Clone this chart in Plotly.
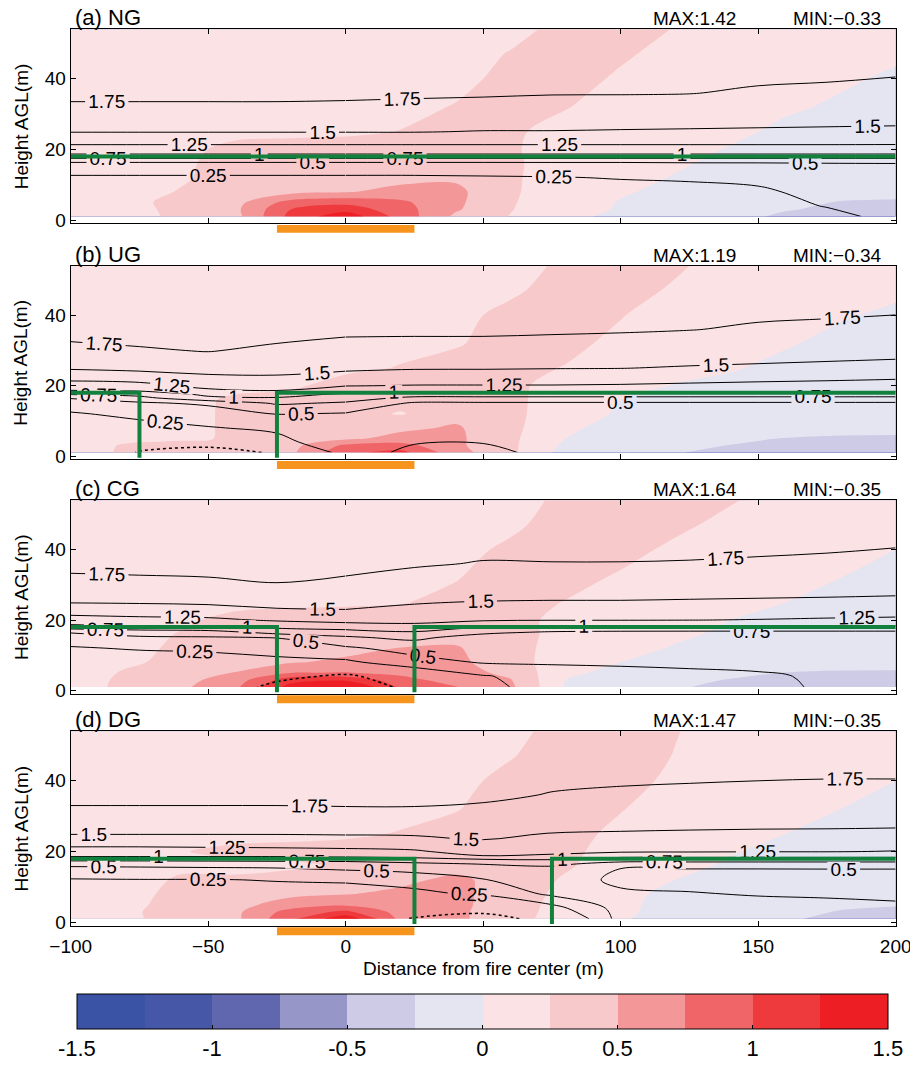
import plotly.graph_objects as go

# ---------------- data ----------------
x_fill = [-100, -80, -60, -40, -20, 0, 20, 40, 60, 80, 100, 120, 140, 160, 180, 200]
z_fill = [1, 3, 5, 8, 12, 16, 20, 25, 32, 40, 47, 54]

fill_NG = [
    [0.12, 0.16, 0.30, 0.42, 1.08, 1.42, 0.90, 0.45, 0.24, 0.05, -0.05, -0.12, -0.20, -0.28, -0.32, -0.33],
    [0.12, 0.17, 0.31, 0.45, 1.00, 1.15, 0.85, 0.53, 0.26, 0.08, -0.02, -0.10, -0.17, -0.24, -0.28, -0.30],
    [0.12, 0.18, 0.32, 0.42, 0.85, 0.92, 0.80, 0.55, 0.27, 0.10, -0.01, -0.08, -0.14, -0.20, -0.26, -0.27],
    [0.12, 0.18, 0.26, 0.35, 0.42, 0.48, 0.58, 0.56, 0.28, 0.12, 0.02, -0.05, -0.10, -0.14, -0.18, -0.20],
    [0.12, 0.17, 0.23, 0.32, 0.35, 0.38, 0.42, 0.46, 0.28, 0.14, 0.05, -0.01, -0.07, -0.12, -0.15, -0.18],
    [0.12, 0.16, 0.22, 0.32, 0.35, 0.36, 0.37, 0.38, 0.28, 0.16, 0.08, 0.02, -0.04, -0.09, -0.13, -0.16],
    [0.12, 0.15, 0.20, 0.30, 0.32, 0.33, 0.34, 0.36, 0.27, 0.17, 0.10, 0.05, -0.01, -0.06, -0.10, -0.13],
    [0.12, 0.14, 0.17, 0.20, 0.21, 0.22, 0.255, 0.33, 0.28, 0.18, 0.12, 0.07, 0.03, -0.03, -0.07, -0.10],
    [0.12, 0.13, 0.14, 0.15, 0.16, 0.17, 0.20, 0.26, 0.35, 0.26, 0.16, 0.10, 0.06, 0.02, -0.02, -0.06],
    [0.12, 0.12, 0.13, 0.14, 0.15, 0.16, 0.17, 0.20, 0.30, 0.33, 0.22, 0.14, 0.09, 0.05, 0.02, -0.02],
    [0.12, 0.12, 0.12, 0.13, 0.14, 0.15, 0.16, 0.18, 0.26, 0.34, 0.28, 0.18, 0.12, 0.08, 0.05, 0.02],
    [0.12, 0.12, 0.12, 0.12, 0.13, 0.14, 0.15, 0.16, 0.20, 0.30, 0.34, 0.24, 0.15, 0.10, 0.06, 0.04],
]
fill_UG = [
    [0.15, 0.28, 0.32, 0.33, 0.45, 0.95, 1.08, 0.60, 0.30, -0.10, -0.17, -0.24, -0.30, -0.33, -0.34, -0.33],
    [0.15, 0.27, 0.31, 0.32, 0.42, 0.80, 0.85, 0.55, 0.30, -0.05, -0.12, -0.19, -0.255, -0.29, -0.30, -0.30],
    [0.14, 0.20, 0.22, 0.27, 0.35, 0.45, 0.58, 0.55, 0.30, 0.00, -0.08, -0.15, -0.21, -0.255, -0.27, -0.27],
    [0.14, 0.18, 0.20, 0.28, 0.33, 0.38, 0.45, 0.53, 0.32, 0.02, -0.04, -0.10, -0.15, -0.18, -0.20, -0.21],
    [0.14, 0.17, 0.20, 0.28, 0.33, 0.35, 0.23, 0.42, 0.32, 0.08, -0.02, -0.06, -0.10, -0.14, -0.17, -0.18],
    [0.13, 0.16, 0.19, 0.28, 0.32, 0.34, 0.34, 0.36, 0.31, 0.12, 0.00, -0.02, -0.06, -0.10, -0.13, -0.15],
    [0.12, 0.14, 0.17, 0.20, 0.22, 0.32, 0.34, 0.35, 0.30, 0.16, 0.06, -0.01, -0.03, -0.07, -0.10, -0.12],
    [0.12, 0.13, 0.15, 0.17, 0.19, 0.21, 0.26, 0.33, 0.31, 0.24, 0.12, 0.06, 0.01, -0.03, -0.06, -0.09],
    [0.12, 0.12, 0.13, 0.14, 0.15, 0.17, 0.20, 0.23, 0.34, 0.30, 0.20, 0.12, 0.06, 0.01, -0.03, -0.06],
    [0.12, 0.12, 0.12, 0.13, 0.14, 0.15, 0.17, 0.20, 0.30, 0.35, 0.26, 0.15, 0.09, 0.05, 0.01, -0.02],
    [0.12, 0.12, 0.12, 0.12, 0.13, 0.14, 0.16, 0.18, 0.22, 0.33, 0.33, 0.22, 0.13, 0.08, 0.05, 0.02],
    [0.12, 0.12, 0.12, 0.12, 0.12, 0.13, 0.15, 0.17, 0.19, 0.28, 0.35, 0.28, 0.16, 0.10, 0.06, 0.04],
]
fill_CG = [
    [0.15, 0.30, 0.45, 0.70, 1.35, 1.58, 0.95, 0.76, 0.55, -0.02, -0.12, -0.23, -0.30, -0.34, -0.35, -0.34],
    [0.15, 0.29, 0.42, 0.62, 1.15, 1.20, 0.85, 0.62, 0.51, 0.00, -0.10, -0.19, -0.26, -0.30, -0.31, -0.31],
    [0.14, 0.27, 0.38, 0.51, 0.74, 0.76, 0.68, 0.58, 0.45, 0.04, -0.06, -0.14, -0.20, -0.255, -0.27, -0.27],
    [0.14, 0.22, 0.30, 0.40, 0.48, 0.55, 0.58, 0.55, 0.38, 0.08, 0.00, -0.06, -0.11, -0.15, -0.18, -0.19],
    [0.13, 0.20, 0.28, 0.33, 0.38, 0.42, 0.505, 0.52, 0.36, 0.12, 0.04, -0.01, -0.06, -0.10, -0.13, -0.15],
    [0.13, 0.18, 0.26, 0.32, 0.35, 0.37, 0.40, 0.42, 0.35, 0.16, 0.07, 0.02, -0.02, -0.06, -0.10, -0.12],
    [0.12, 0.16, 0.22, 0.30, 0.33, 0.34, 0.33, 0.35, 0.33, 0.18, 0.10, 0.05, 0.00, -0.04, -0.08, -0.10],
    [0.12, 0.14, 0.17, 0.20, 0.21, 0.22, 0.24, 0.30, 0.34, 0.24, 0.14, 0.09, 0.04, 0.00, -0.03, -0.06],
    [0.12, 0.12, 0.13, 0.14, 0.15, 0.17, 0.19, 0.24, 0.34, 0.33, 0.22, 0.14, 0.08, 0.04, 0.00, -0.03],
    [0.12, 0.12, 0.12, 0.13, 0.14, 0.15, 0.17, 0.20, 0.28, 0.35, 0.33, 0.20, 0.12, 0.07, 0.03, 0.00],
    [0.12, 0.12, 0.12, 0.12, 0.13, 0.14, 0.16, 0.18, 0.22, 0.32, 0.36, 0.30, 0.18, 0.10, 0.06, 0.03],
    [0.12, 0.12, 0.12, 0.12, 0.12, 0.13, 0.15, 0.17, 0.20, 0.28, 0.36, 0.34, 0.27, 0.15, 0.08, 0.05],
]
fill_DG = [
    [0.12, 0.20, 0.35, 0.45, 0.95, 1.45, 0.68, 0.55, 0.35, 0.12, 0.02, -0.08, -0.16, -0.23, -0.29, -0.33],
    [0.12, 0.21, 0.34, 0.45, 0.85, 1.05, 0.65, 0.55, 0.36, 0.14, 0.03, -0.06, -0.14, -0.20, -0.26, -0.28],
    [0.12, 0.20, 0.32, 0.43, 0.60, 0.70, 0.62, 0.56, 0.37, 0.15, 0.03, -0.05, -0.12, -0.17, -0.22, -0.24],
    [0.12, 0.19, 0.30, 0.40, 0.45, 0.49, 0.55, 0.56, 0.38, 0.18, 0.04, -0.04, -0.10, -0.15, -0.19, -0.21],
    [0.12, 0.18, 0.27, 0.28, 0.32, 0.38, 0.45, 0.55, 0.40, 0.22, 0.08, 0.00, -0.05, -0.10, -0.14, -0.16],
    [0.12, 0.17, 0.22, 0.20, 0.22, 0.27, 0.35, 0.42, 0.38, 0.28, 0.12, 0.04, -0.02, -0.07, -0.11, -0.14],
    [0.12, 0.16, 0.24, 0.30, 0.31, 0.32, 0.33, 0.35, 0.36, 0.30, 0.16, 0.07, 0.01, -0.04, -0.08, -0.11],
    [0.12, 0.13, 0.15, 0.18, 0.20, 0.22, 0.26, 0.32, 0.36, 0.32, 0.20, 0.11, 0.05, 0.00, -0.04, -0.07],
    [0.12, 0.12, 0.13, 0.14, 0.15, 0.17, 0.20, 0.24, 0.34, 0.35, 0.26, 0.15, 0.09, 0.04, 0.00, -0.03],
    [0.12, 0.12, 0.12, 0.13, 0.14, 0.15, 0.17, 0.20, 0.30, 0.36, 0.33, 0.20, 0.12, 0.07, 0.03, 0.00],
    [0.12, 0.12, 0.12, 0.12, 0.13, 0.14, 0.16, 0.18, 0.24, 0.34, 0.36, 0.24, 0.14, 0.09, 0.05, 0.02],
    [0.12, 0.12, 0.12, 0.12, 0.12, 0.13, 0.15, 0.17, 0.20, 0.32, 0.36, 0.26, 0.15, 0.10, 0.06, 0.04],
]

x_line = [-100, -75, -50, -25, 0, 25, 50, 75, 100, 125, 150, 175, 200]
z_line = [1, 4, 8, 12, 15, 16.5, 17.5, 18.5, 20, 22, 25, 30, 36, 45, 54]

u_NG = [
    [0.08, 0.08, 0.08, 0.08, 0.08, 0.10, 0.12, 0.14, 0.16, 0.18, 0.20, 0.22, 0.28],
    [0.10, 0.10, 0.10, 0.10, 0.10, 0.11, 0.13, 0.15, 0.17, 0.19, 0.21, 0.255, 0.30],
    [0.14, 0.14, 0.14, 0.14, 0.14, 0.14, 0.15, 0.16, 0.18, 0.20, 0.23, 0.29, 0.32],
    [0.22, 0.22, 0.22, 0.22, 0.22, 0.22, 0.23, 0.24, 0.26, 0.27, 0.28, 0.31, 0.34],
    [0.36, 0.36, 0.36, 0.36, 0.36, 0.36, 0.36, 0.37, 0.37, 0.38, 0.39, 0.40, 0.42],
    [0.52, 0.52, 0.52, 0.52, 0.52, 0.52, 0.52, 0.52, 0.52, 0.53, 0.53, 0.54, 0.54],
    [0.76, 0.76, 0.76, 0.76, 0.76, 0.76, 0.76, 0.76, 0.76, 0.76, 0.76, 0.76, 0.76],
    [0.98, 0.98, 0.98, 0.98, 0.98, 0.98, 0.98, 0.98, 0.98, 0.98, 0.98, 0.98, 0.98],
    [1.15, 1.15, 1.15, 1.15, 1.15, 1.15, 1.15, 1.15, 1.15, 1.15, 1.15, 1.15, 1.14],
    [1.30, 1.30, 1.30, 1.30, 1.30, 1.30, 1.30, 1.30, 1.30, 1.30, 1.30, 1.30, 1.30],
    [1.51, 1.51, 1.51, 1.51, 1.51, 1.51, 1.49, 1.49, 1.48, 1.47, 1.46, 1.45, 1.44],
    [1.68, 1.68, 1.68, 1.68, 1.68, 1.67, 1.67, 1.66, 1.65, 1.65, 1.64, 1.63, 1.62],
    [1.80, 1.80, 1.80, 1.80, 1.79, 1.78, 1.77, 1.76, 1.76, 1.755, 1.73, 1.72, 1.70],
    [1.88, 1.88, 1.88, 1.88, 1.88, 1.87, 1.86, 1.85, 1.84, 1.83, 1.82, 1.81, 1.80],
    [1.95, 1.95, 1.95, 1.95, 1.95, 1.94, 1.93, 1.92, 1.91, 1.91, 1.90, 1.90, 1.89],
]
u_UG = [
    [0.08, -0.27, -0.32, -0.23, 0.37, 0.57, 0.56, 0.44, 0.40, 0.38, 0.36, 0.36, 0.38],
    [0.10, -0.12, -0.18, 0.20, 0.36, 0.48, 0.49, 0.42, 0.39, 0.37, 0.36, 0.36, 0.37],
    [0.14, 0.18, 0.24, 0.28, 0.35, 0.38, 0.39, 0.38, 0.37, 0.36, 0.35, 0.35, 0.35],
    [0.23, 0.30, 0.34, 0.51, 0.48, 0.42, 0.41, 0.40, 0.40, 0.39, 0.39, 0.39, 0.39],
    [0.35, 0.45, 0.55, 0.78, 0.72, 0.46, 0.46, 0.46, 0.46, 0.46, 0.46, 0.46, 0.46],
    [0.52, 0.68, 0.95, 0.98, 0.85, 0.70, 0.70, 0.70, 0.70, 0.70, 0.70, 0.70, 0.70],
    [0.76, 0.82, 1.05, 1.10, 0.95, 0.85, 0.85, 0.85, 0.85, 0.85, 0.85, 0.85, 0.85],
    [0.98, 1.01, 1.20, 1.24, 1.10, 1.05, 1.05, 1.05, 1.05, 1.05, 1.05, 1.05, 1.04],
    [1.15, 1.18, 1.32, 1.35, 1.26, 1.24, 1.24, 1.24, 1.23, 1.21, 1.19, 1.18, 1.16],
    [1.30, 1.33, 1.42, 1.45, 1.38, 1.36, 1.35, 1.35, 1.34, 1.32, 1.30, 1.28, 1.26],
    [1.53, 1.57, 1.62, 1.60, 1.55, 1.52, 1.52, 1.51, 1.505, 1.48, 1.46, 1.44, 1.42],
    [1.70, 1.73, 1.76, 1.71, 1.68, 1.67, 1.67, 1.66, 1.65, 1.64, 1.62, 1.60, 1.58],
    [1.82, 1.84, 1.85, 1.83, 1.79, 1.79, 1.79, 1.78, 1.77, 1.755, 1.73, 1.72, 1.70],
    [1.89, 1.90, 1.90, 1.89, 1.88, 1.87, 1.86, 1.85, 1.84, 1.83, 1.82, 1.81, 1.81],
    [1.95, 1.95, 1.95, 1.95, 1.94, 1.93, 1.92, 1.91, 1.90, 1.89, 1.88, 1.88, 1.88],
]
u_CG = [
    [0.08, 0.05, 0.00, -0.35, -0.40, -0.18, 0.20, 0.33, 0.38, 0.42, 0.46, 0.52, 0.55],
    [0.10, 0.08, 0.05, -0.15, -0.32, 0.00, 0.23, 0.36, 0.40, 0.44, 0.47, 0.53, 0.56],
    [0.14, 0.13, 0.12, 0.15, 0.20, 0.40, 0.52, 0.53, 0.54, 0.55, 0.56, 0.57, 0.58],
    [0.23, 0.27, 0.30, 0.40, 0.46, 0.60, 0.60, 0.60, 0.60, 0.60, 0.60, 0.60, 0.60],
    [0.36, 0.48, 0.48, 0.505, 0.72, 0.80, 0.64, 0.62, 0.62, 0.62, 0.62, 0.62, 0.62],
    [0.52, 0.56, 0.62, 0.85, 0.85, 0.98, 0.80, 0.72, 0.70, 0.70, 0.70, 0.70, 0.70],
    [0.76, 0.85, 0.88, 0.98, 1.05, 1.08, 0.95, 0.88, 0.86, 0.85, 0.85, 0.85, 0.85],
    [0.98, 1.02, 1.04, 1.12, 1.18, 1.20, 1.08, 1.05, 1.04, 1.04, 1.04, 1.04, 1.03],
    [1.15, 1.18, 1.20, 1.28, 1.32, 1.34, 1.28, 1.26, 1.26, 1.255, 1.24, 1.22, 1.20],
    [1.30, 1.33, 1.35, 1.42, 1.46, 1.45, 1.40, 1.38, 1.37, 1.36, 1.35, 1.33, 1.32],
    [1.51, 1.52, 1.54, 1.60, 1.58, 1.51, 1.49, 1.48, 1.48, 1.47, 1.46, 1.45, 1.44],
    [1.69, 1.70, 1.71, 1.74, 1.70, 1.66, 1.64, 1.65, 1.65, 1.64, 1.63, 1.62, 1.60],
    [1.80, 1.81, 1.82, 1.84, 1.82, 1.77, 1.74, 1.745, 1.745, 1.74, 1.73, 1.72, 1.70],
    [1.88, 1.89, 1.89, 1.90, 1.89, 1.86, 1.84, 1.83, 1.83, 1.83, 1.82, 1.81, 1.80],
    [1.95, 1.95, 1.95, 1.95, 1.95, 1.93, 1.91, 1.90, 1.90, 1.90, 1.89, 1.89, 1.88],
]
u_DG = [
    [0.08, 0.08, 0.08, 0.10, 0.05, -0.28, -0.35, -0.16, 0.60, 0.58, 0.56, 0.56, 0.56],
    [0.10, 0.10, 0.10, 0.10, 0.05, 0.00, -0.15, 0.15, 0.60, 0.58, 0.56, 0.55, 0.54],
    [0.14, 0.15, 0.16, 0.17, 0.18, 0.20, 0.28, 0.55, 0.53, 0.51, 0.49, 0.48, 0.46],
    [0.23, 0.24, 0.24, 0.26, 0.27, 0.33, 0.49, 0.60, 0.46, 0.45, 0.45, 0.45, 0.45],
    [0.44, 0.45, 0.46, 0.47, 0.52, 0.58, 0.62, 0.68, 0.49, 0.49, 0.49, 0.495, 0.495],
    [0.56, 0.57, 0.58, 0.60, 0.64, 0.70, 0.76, 0.80, 0.66, 0.66, 0.66, 0.66, 0.66],
    [0.78, 0.78, 0.79, 0.80, 0.80, 0.85, 0.90, 0.95, 0.82, 0.82, 0.82, 0.82, 0.82],
    [0.99, 0.99, 0.99, 0.99, 1.01, 1.05, 1.22, 1.20, 1.03, 1.03, 1.03, 1.03, 1.03],
    [1.15, 1.15, 1.16, 1.17, 1.19, 1.22, 1.35, 1.30, 1.28, 1.27, 1.26, 1.26, 1.24],
    [1.30, 1.30, 1.31, 1.32, 1.33, 1.35, 1.45, 1.40, 1.38, 1.37, 1.36, 1.35, 1.34],
    [1.51, 1.51, 1.51, 1.51, 1.52, 1.53, 1.56, 1.49, 1.48, 1.47, 1.46, 1.46, 1.45],
    [1.69, 1.69, 1.69, 1.69, 1.70, 1.70, 1.68, 1.63, 1.62, 1.61, 1.61, 1.60, 1.60],
    [1.81, 1.81, 1.81, 1.81, 1.81, 1.81, 1.79, 1.74, 1.72, 1.71, 1.71, 1.70, 1.70],
    [1.89, 1.89, 1.89, 1.89, 1.89, 1.88, 1.87, 1.84, 1.83, 1.82, 1.80, 1.80, 1.80],
    [1.95, 1.95, 1.95, 1.95, 1.95, 1.94, 1.93, 1.91, 1.90, 1.89, 1.88, 1.88, 1.88],
]

panel_titles = ["(a) NG", "(b) UG", "(c) CG", "(d) DG"]
max_labels = ["MAX:1.42", "MAX:1.19", "MAX:1.64", "MAX:1.47"]
min_labels = ["MIN:\u22120.33", "MIN:\u22120.34", "MIN:\u22120.35", "MIN:\u22120.35"]
canopy_gaps = [None, (-75, -25), (-25, 25), (25, 75)]
canopy_top = 18
fire_extent = (-25, 25)

level_colors = ["#3a53a4", "#4657a7", "#6067ae", "#9696c9", "#cdcbe6", "#e5e4f1",
                "#fbe3e5", "#f8c9cb", "#f39798", "#f06567", "#ee3a3c", "#ed1f24"]
cbar_tickvals = [-1.5, -1, -0.5, 0, 0.5, 1, 1.5]
cbar_ticktext = ["-1.5", "-1", "-0.5", "0", "0.5", "1", "1.5"]
x_tickvals = [-100, -50, 0, 50, 100, 150, 200]
x_ticktext = ["\u2212100", "\u221250", "0", "50", "100", "150", "200"]
y_tickvals = [0, 20, 40]

fills = [fill_NG, fill_UG, fill_CG, fill_DG]
lines = [u_NG, u_UG, u_CG, u_DG]

# ---------------- layout geometry (page pixels) ----------------
# the page body has an 8 px default margin, so the figure is 8 px smaller
OFF = 8
W, H = 918 - OFF, 1067 - OFF
PL, PR = 70.7, 895.7
tops = [29.3, 266.7, 501.7, 733.3]
bottoms = [224.0, 460.7, 695.7, 928.3]
FONT = "Liberation Sans, Arial, Helvetica, sans-serif"
NARROW = "Liberation Sans Narrow, Arial Narrow, Liberation Sans, sans-serif"


def px_x(p):
    return (p - OFF) / W


def px_y(p):
    return 1 - (p - OFF) / H


# discrete colour maps
n = len(level_colors)
fill_scale = [[0.0, level_colors[0]]]
for k in range(1, n + 1):
    fill_scale.append([k / (n + 1), level_colors[k - 1]])
fill_scale.append([1.0, level_colors[-1]])
bar_scale = []
for k, c in enumerate(level_colors):
    bar_scale.append([k / n, c])
    bar_scale.append([(k + 1) / n, c])

label_font = dict(size=19, color="black", family=FONT)
# the line field is drawn in two overlapping parts so that each line gets two labels
halves = [slice(0, 5), slice(4, 13)]

fig = go.Figure()
annotations = []
shapes = []

for i in range(4):
    ax = "" if i == 0 else str(i + 1)
    xa, ya = "x" + ax, "y" + ax
    fig.add_trace(go.Contour(
        x=x_fill, y=z_fill, z=fills[i], xaxis=xa, yaxis=ya,
        autocontour=False,
        contours=dict(start=-1.5, end=1.5, size=0.25, coloring="fill", showlines=False),
        colorscale=fill_scale, line=dict(width=0, smoothing=0.9),
        showscale=False, hoverinfo="skip"))
    for hs in halves:
        fig.add_trace(go.Contour(
            x=x_line[hs], y=z_line, z=[row[hs] for row in lines[i]], xaxis=xa, yaxis=ya,
            autocontour=False,
            contours=dict(start=0.25, end=1.75, size=0.25, coloring="none", showlabels=True,
                          labelfont=label_font),
            line=dict(color="black", width=1, smoothing=1),
            showscale=False, hoverinfo="skip"))
    fig.add_trace(go.Contour(
        x=x_line, y=z_line, z=lines[i], xaxis=xa, yaxis=ya,
        autocontour=False,
        contours=dict(start=-0.25, end=-0.25, size=0.5, coloring="none", showlabels=True,
                      labelfont=label_font),
        line=dict(color="black", width=1.5, smoothing=1, dash="dot"),
        showscale=False, hoverinfo="skip"))
    gap = canopy_gaps[i]
    if gap is None:
        gx, gz = [-100, 200], [canopy_top, canopy_top]
    else:
        gx = [-100, gap[0], gap[0], None, gap[1], gap[1], 200]
        gz = [canopy_top, canopy_top, -0.5, None, -0.5, canopy_top, canopy_top]
    fig.add_trace(go.Scatter(x=gx, y=gz, xaxis=xa, yaxis=ya, mode="lines",
                             line=dict(color="#12813d", width=4), hoverinfo="skip",
                             showlegend=False))
    dom_y = [px_y(bottoms[i]), px_y(tops[i])]
    fig.layout["xaxis" + ax] = dict(
        domain=[px_x(PL), px_x(PR)], anchor=ya, range=[-100, 200],
        tickmode="array", tickvals=x_tickvals, ticktext=x_ticktext,
        showticklabels=(i == 3), ticks="inside", ticklen=5, tickcolor="black",
        mirror="ticks", showline=True, linecolor="black", linewidth=1,
        showgrid=False, zeroline=False, automargin=False,
        ticklabeloverflow="allow",
        tickfont=dict(family=FONT, size=19, color="black"), ticklabelstandoff=4)
    fig.layout["yaxis" + ax] = dict(
        domain=dom_y, anchor=xa, range=[-0.95, 54],
        tickmode="array", tickvals=y_tickvals, ticks="inside", ticklen=5,
        tickcolor="black", mirror="ticks", showline=True, linecolor="black",
        linewidth=1, showgrid=False, zeroline=False, automargin=False,
        ticklabeloverflow="allow",
        tickfont=dict(family=FONT, size=19, color="black"))
    # fire location bar
    shapes.append(dict(type="rect", xref=xa, yref="paper", x0=fire_extent[0], x1=fire_extent[1],
                       y0=px_y(bottoms[i] + 1.5), y1=px_y(bottoms[i] + 9.5),
                       fillcolor="#f7941d", line=dict(width=0), layer="above"))
    annotations.append(dict(text=panel_titles[i], x=px_x(73), y=px_y(tops[i] - 11.5),
                            xref="paper", yref="paper", xanchor="left", yanchor="middle",
                            showarrow=False, font=dict(family=FONT, size=22, color="black")))
    annotations.append(dict(text=max_labels[i], x=px_x(651), y=px_y(tops[i] - 10.5),
                            xref="paper", yref="paper", xanchor="left", yanchor="middle",
                            showarrow=False, font=dict(family=FONT, size=19, color="black")))
    annotations.append(dict(text=min_labels[i], x=px_x(791), y=px_y(tops[i] - 10.5),
                            xref="paper", yref="paper", xanchor="left", yanchor="middle",
                            showarrow=False, font=dict(family=FONT, size=19, color="black")))
    annotations.append(dict(text="Height AGL(m)", x=px_x(21), y=px_y((tops[i] + bottoms[i]) / 2),
                            xref="paper", yref="paper", xanchor="center", yanchor="middle",
                            textangle=-90, showarrow=False,
                            font=dict(family=FONT, size=19, color="black")))

annotations.append(dict(text="Distance from fire center (m)", x=px_x((PL + PR) / 2), y=px_y(971),
                        xref="paper", yref="paper", xanchor="center", yanchor="middle",
                        showarrow=False, font=dict(family=FONT, size=19, color="black")))

# colour bar (carried by an off-range marker trace)
fig.add_trace(go.Scatter(
    x=[-1000, -1000], y=[-1000, -1000], mode="markers", xaxis="x", yaxis="y",
    marker=dict(color=[-1.5, 1.5], colorscale=bar_scale, cmin=-1.5, cmax=1.5, size=1,
                showscale=True,
                colorbar=dict(orientation="h", x=px_x(482.4), xanchor="center",
                              lenmode="pixels", len=811, thicknessmode="pixels", thickness=35,
                              y=px_y(997), yanchor="top", ypad=0, xpad=0,
                              outlinewidth=1, outlinecolor="black", borderwidth=0,
                              tickmode="array", tickvals=cbar_tickvals, ticktext=cbar_ticktext,
                              ticks="inside", ticklen=4, tickcolor="black",
                              tickfont=dict(family=NARROW, size=22, color="black"))),
    hoverinfo="skip", showlegend=False))

fig.update_layout(template="none", width=W, height=H,
                  margin=dict(l=0, r=0, t=0, b=0),
                  paper_bgcolor="white", plot_bgcolor="white",
                  showlegend=False, annotations=annotations, shapes=shapes,
                  font=dict(family=FONT, color="black"))

fig.write_html("out.html")
